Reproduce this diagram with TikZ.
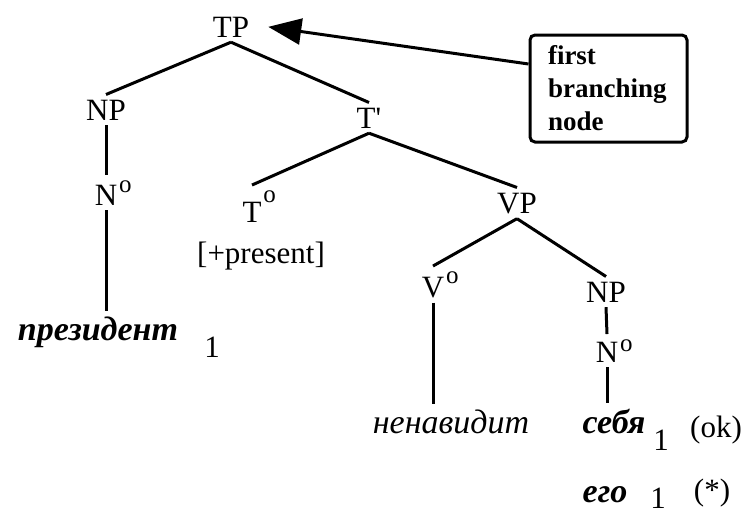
\documentclass[tikz,border=0pt]{standalone}
\usepackage{fontspec}
\setmainfont{Liberation Serif}
\usetikzlibrary{arrows.meta}

% raised small o after a head label
\newcommand{\degsup}[1]{\rlap{\hspace{2pt}\raisebox{#1}{\fontsize{25}{25}\selectfont o}}}

\begin{document}
\begin{tikzpicture}[x=1pt, y=-1pt,
    % Category labels
    cat/.style={
        anchor=base,
        inner sep=5pt,
        font=\fontsize{31}{36}\selectfont
    },
    % Russian words
    word/.style={
        anchor=base,
        inner sep=5pt,
        font=\fontsize{34}{40}\selectfont\itshape
    },
    wordbf/.style={
        word,
        font=\fontsize{34}{40}\selectfont\bfseries\itshape
    },
    % Callout box
    notebox/.style={
        rectangle,
        rounded corners=5pt,
        draw=black,
        line width=3pt,
        text width=121pt,
        inner xsep=18pt,
        minimum height=107pt,
        align=left,
        font=\fontsize{27}{33}\selectfont\bfseries
    },
    % Tree edges
    branch/.style={
        line width=3pt
    },
    % Arrow style
    pointer/.style={
        -{Triangle[length=33pt, width=26pt]},
        line width=3pt
    }
]
\useasboundingbox (0,0) rectangle (754,514);

% === Upper tree ===
\node[cat] (tp) at (231, 37) {TP};
\node[cat] (np1) at (106, 120) {NP};
\node[cat] (tbar) at (369, 128) {T\textquotesingle};
\node[cat] (n1) at (106, 205) {N\degsup{13pt}};
\node[cat] (t0) at (252, 222) {T\degsup{20pt}};
\node[cat] (pres) at (261, 263) {[+present]};
\node[cat] (vp) at (517, 213) {VP};

% === Lower tree ===
\node[cat] (v0) at (433, 297) {V\degsup{14pt}};
\node[cat] (np2) at (606, 302) {NP};
\node[cat] (n2) at (607, 362) {N\degsup{11pt}};

% === Words ===
\node[wordbf] (prez) at (98, 340) {президент};
\node[cat] (i1) at (212, 357) {1};
\node[word] (hates) at (451, 433) {ненавидит};
\node[wordbf] (sebja) at (614, 433) {себя};
\node[cat] (i2) at (661, 450) {1};
\node[cat] (ok) at (716, 437) {(ok)};
\node[wordbf] (ego) at (605, 502) {его};
\node[cat, inner sep=2pt] (i3) at (658, 508) {1};
\node[cat] (star) at (712, 500) {(*)};

% === Callout ===
\node[notebox] (note) at (608.5, 88.5) {first\\branching\\node};

% === Branches ===
\draw[branch] (tp.south) -- (np1.north);
\draw[branch] (tp.south) -- (tbar.north);
\draw[branch] (np1.south) -- (n1.north);
\draw[branch] (n1.south) -- (n1.south |- prez.north);
\draw[branch] (tbar.south) -- (t0.north);
\draw[branch] (tbar.south) -- (vp.north);
\draw[branch] (vp.south) -- (v0.north);
\draw[branch] (vp.south) -- (np2.north);
\draw[branch] (v0.south) -- (v0.south |- hates.north);
\draw[branch] (np2.south) -- (n2.north);
\draw[branch] (n2.south) -- (n2.south |- sebja.north);

% === Pointer to TP ===
\draw[pointer] ([yshift=24.5pt]note.west) -- ([xshift=14pt]tp.east);

\end{tikzpicture}
\end{document}
